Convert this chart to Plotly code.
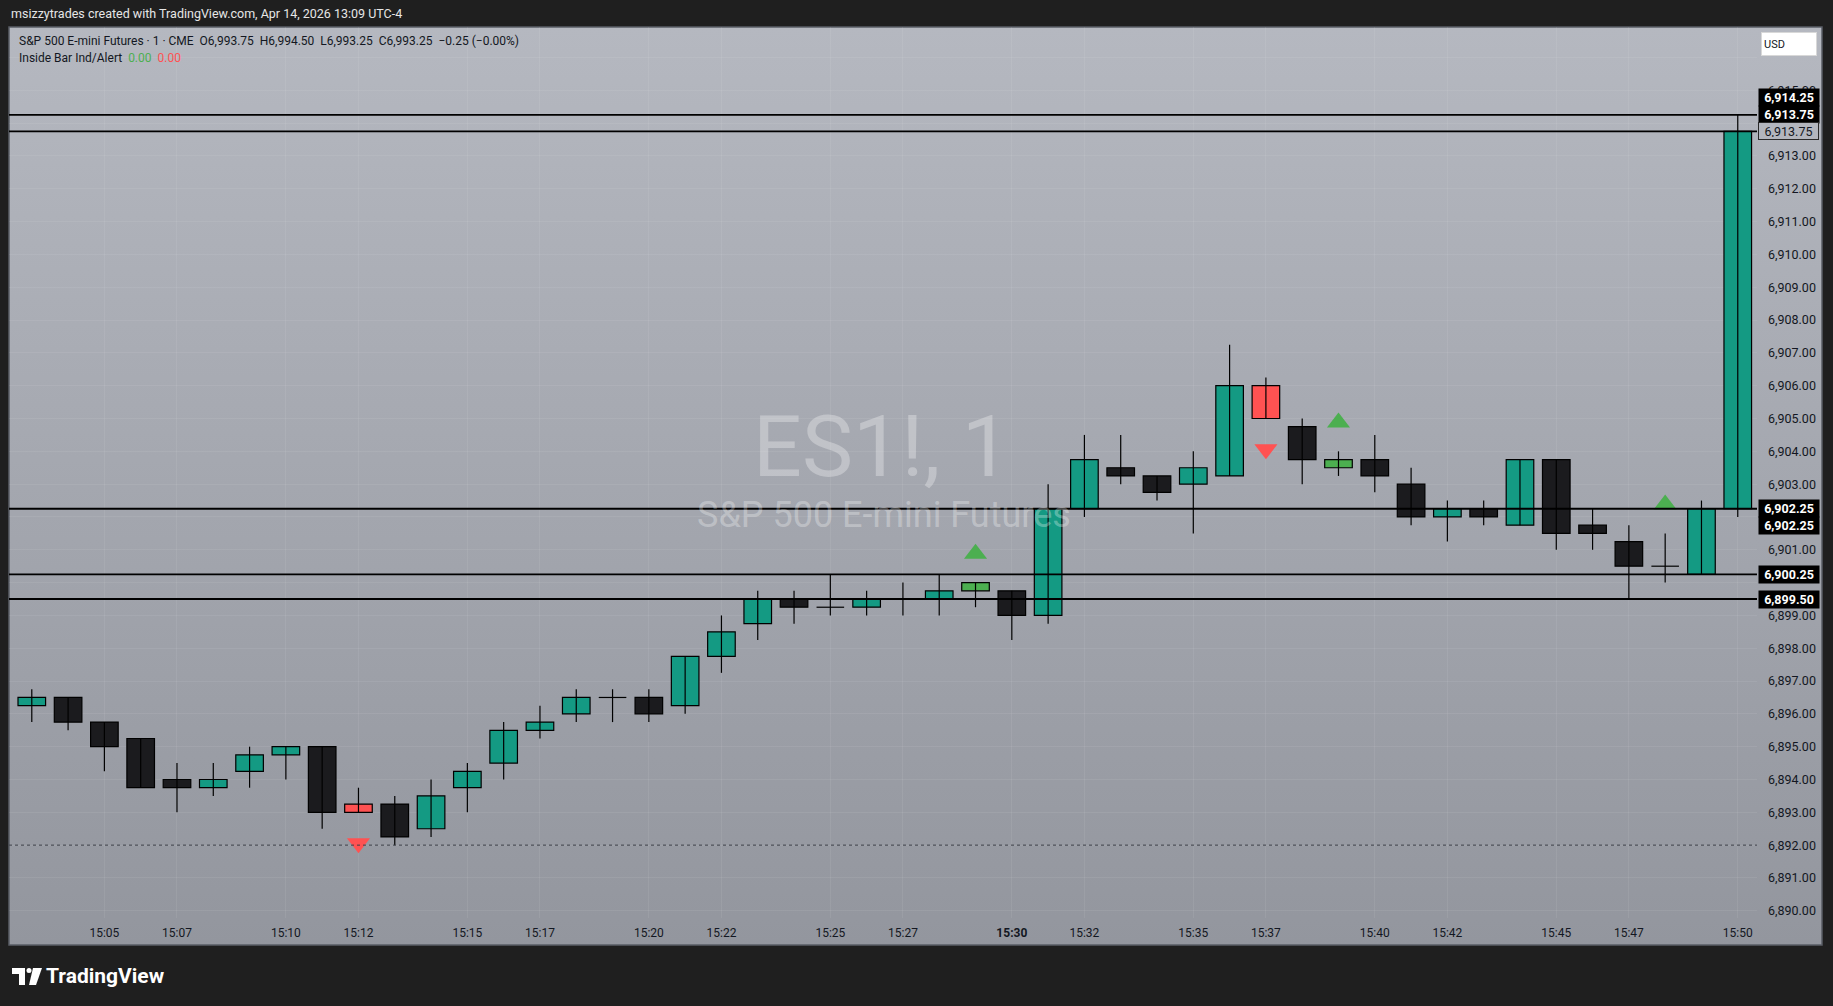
import base64
import plotly.graph_objects as go

# ---------------- data ----------------
times = ["15:03", "15:04", "15:05", "15:06", "15:07", "15:08", "15:09", "15:10", "15:11", "15:12",
         "15:13", "15:14", "15:15", "15:16", "15:17", "15:18", "15:19", "15:20", "15:21", "15:22",
         "15:23", "15:24", "15:25", "15:26", "15:27", "15:28", "15:29", "15:30", "15:31", "15:32",
         "15:33", "15:34", "15:35", "15:36", "15:37", "15:38", "15:39", "15:40", "15:41", "15:42",
         "15:43", "15:44", "15:45", "15:46", "15:47", "15:48", "15:49", "15:50"]
opens = [6896.25, 6896.50, 6895.75, 6895.25, 6894.00, 6893.75, 6894.25, 6894.75, 6895.00, 6893.25,
         6893.25, 6892.50, 6893.75, 6894.50, 6895.50, 6896.00, 6896.50, 6896.50, 6896.25, 6897.75,
         6898.75, 6899.50, 6899.25, 6899.25, 6899.50, 6899.50, 6899.75, 6899.75, 6899.00, 6902.25,
         6903.50, 6903.25, 6903.00, 6903.25, 6906.00, 6904.75, 6903.50, 6903.75, 6903.00, 6902.00,
         6902.25, 6901.75, 6903.75, 6901.75, 6901.25, 6900.50, 6900.25, 6902.25]
highs = [6896.75, 6896.50, 6895.75, 6895.25, 6894.50, 6894.50, 6895.00, 6895.00, 6895.00, 6893.75,
         6893.50, 6894.00, 6894.50, 6895.75, 6896.25, 6896.75, 6896.75, 6896.75, 6897.75, 6899.00,
         6899.75, 6899.75, 6900.25, 6899.75, 6900.00, 6900.25, 6900.00, 6899.75, 6903.00, 6904.50,
         6904.50, 6903.25, 6904.00, 6907.25, 6906.25, 6905.00, 6904.00, 6904.50, 6903.50, 6902.50,
         6902.50, 6903.75, 6903.75, 6902.25, 6901.75, 6901.50, 6902.50, 6914.25]
lows = [6895.75, 6895.50, 6894.25, 6893.75, 6893.00, 6893.50, 6893.75, 6894.00, 6892.50, 6893.00,
        6892.00, 6892.25, 6893.00, 6894.00, 6895.25, 6895.75, 6895.75, 6895.75, 6896.00, 6897.25,
        6898.25, 6898.75, 6899.00, 6899.00, 6899.00, 6899.00, 6899.25, 6898.25, 6898.75, 6902.00,
        6903.00, 6902.50, 6901.50, 6903.25, 6905.00, 6903.00, 6903.25, 6902.75, 6901.75, 6901.25,
        6901.75, 6901.75, 6901.00, 6901.00, 6899.50, 6900.00, 6900.25, 6902.00]
closes = [6896.50, 6895.75, 6895.00, 6893.75, 6893.75, 6894.00, 6894.75, 6895.00, 6893.00, 6893.00,
          6892.25, 6893.50, 6894.25, 6895.50, 6895.75, 6896.50, 6896.50, 6896.00, 6897.75, 6898.50,
          6899.50, 6899.25, 6899.25, 6899.50, 6899.50, 6899.75, 6900.00, 6899.00, 6902.25, 6903.75,
          6903.25, 6902.75, 6903.50, 6906.00, 6905.00, 6903.75, 6903.75, 6903.25, 6902.00, 6902.25,
          6902.00, 6903.75, 6901.50, 6901.50, 6900.50, 6900.50, 6902.25, 6913.75]
# Inside Bar Ind/Alert signals ("up" / "down" / None)
signals = [None] * 9 + ["down"] + [None] * 16 + ["up"] + [None] * 7 + ["down"] + [None] + ["up"] + \
          [None] * 8 + ["up"] + [None, None]
tick_times = ["15:05", "15:07", "15:10", "15:12", "15:15", "15:17", "15:20", "15:22", "15:25", "15:27",
              "15:30", "15:32", "15:35", "15:37", "15:40", "15:42", "15:45", "15:47", "15:50"]
bold_tick = "15:30"
line_levels = [6914.25, 6913.75, 6902.25, 6900.25, 6899.50]
dotted_level = 6892.00
label_levels = [6914.25, 6913.75, 6902.25, 6902.25, 6900.25, 6899.50]
price_ticks = [6890 + i for i in range(27)]
hidden_price_ticks = [6916, 6914, 6902, 6900]   # covered by the axis labels

header_text = "msizzytrades created with TradingView.com, Apr 14, 2026 13:09 UTC-4"
legend_line1 = "S&P 500 E-mini Futures · 1 · CME  O6,993.75  H6,994.50  L6,993.25  C6,993.25  −0.25 (−0.00%)"
indicator_name = "Inside Bar Ind/Alert"
indicator_vals = ["0.00", "0.00"]

# ---------------- style ----------------
W, H = 1833, 1006
PL, PR, PT, PB = 9, 1757, 27, 918          # plot area pixels
PANE_R, PANE_B = 1822, 945
UP = "#149a83"
DOWN = "#1b1b1e"
IB_RED = "#ff5252"
IB_GREEN = "#4caf50"
TXT = "#131722"
FONT = "Roboto"
BODY_W = 0.76


def px(X):
    return (X - PL) / (PR - PL)


def py(Y):
    return (PB - Y) / (PB - PT)


xs = list(range(len(times)))
fig = go.Figure()

# wicks
wx, wy = [], []
for i in xs:
    wx += [i, i, None]
    wy += [lows[i], highs[i], None]
fig.add_trace(go.Scatter(x=wx, y=wy, mode="lines", line=dict(color="#000000", width=1.2),
                         showlegend=False, hoverinfo="skip"))


def body_color(i):
    if signals[i] == "down":
        return IB_RED
    if signals[i] == "up":
        return IB_GREEN
    return UP if closes[i] > opens[i] else DOWN


body_idx = [i for i in xs if closes[i] != opens[i]]
fig.add_trace(go.Bar(
    x=body_idx, base=[min(opens[i], closes[i]) for i in body_idx],
    y=[abs(closes[i] - opens[i]) for i in body_idx], width=BODY_W,
    marker=dict(color=[body_color(i) for i in body_idx], line=dict(color="#000000", width=1.2)),
    showlegend=False, hoverinfo="skip"))

# doji bodies (open == close)
dx, dy = [], []
for i in xs:
    if closes[i] == opens[i]:
        dx += [i - BODY_W / 2, i + BODY_W / 2, None]
        dy += [opens[i], opens[i], None]
fig.add_trace(go.Scatter(x=dx, y=dy, mode="lines", line=dict(color="#000000", width=1.2),
                         showlegend=False, hoverinfo="skip"))

green_idx = [i for i in xs if signals[i] == "up"]
red_idx = [i for i in xs if signals[i] == "down"]
ARROW_GAP_UP = 0.88
ARROW_GAP_DN = 0.94
fig.add_trace(go.Scatter(
    x=green_idx, y=[highs[i] + ARROW_GAP_UP for i in green_idx],
    mode="markers", marker=dict(symbol="triangle-up", size=20, color=IB_GREEN, line=dict(width=0)),
    showlegend=False, hoverinfo="skip"))
fig.add_trace(go.Scatter(
    x=red_idx, y=[lows[i] - ARROW_GAP_DN for i in red_idx],
    mode="markers", marker=dict(symbol="triangle-down", size=20, color=IB_RED, line=dict(width=0)),
    showlegend=False, hoverinfo="skip"))

shapes = []
# pane border
shapes.append(dict(type="rect", xref="paper", yref="paper", x0=px(PL), x1=px(PANE_R),
                   y0=py(PANE_B), y1=py(PT), line=dict(color="#5a5d66", width=1.5), layer="below"))
for lv in line_levels:
    shapes.append(dict(type="line", xref="paper", yref="y", x0=0, x1=1, y0=lv, y1=lv,
                       line=dict(color="#000000", width=1.8)))
shapes.append(dict(type="line", xref="paper", yref="y", x0=0, x1=1, y0=dotted_level, y1=dotted_level,
                   line=dict(color="#3c3f47", width=1, dash="dot")))
# TradingView logo (decoration)
logo = "#ffffff"
shapes.append(dict(type="rect", xref="paper", yref="paper", x0=px(12), x1=px(25), y0=py(974), y1=py(968),
                   fillcolor=logo, line=dict(width=0)))
shapes.append(dict(type="rect", xref="paper", yref="paper", x0=px(19), x1=px(25), y0=py(985), y1=py(968),
                   fillcolor=logo, line=dict(width=0)))
shapes.append(dict(type="circle", xref="paper", yref="paper", x0=px(26.5), x1=px(31.5), y0=py(973),
                   y1=py(968), fillcolor=logo, line=dict(width=0)))
shapes.append(dict(type="path", xref="paper", yref="paper",
                   path="M {a},{b} L {c},{b} L {d},{e} L {f},{e} Z".format(
                       a=px(33), b=py(968), c=px(42), d=px(36), e=py(985), f=px(29)),
                   fillcolor=logo, line=dict(width=0)))

# gradient background for pane
svg = ('<svg xmlns="http://www.w3.org/2000/svg" width="100" height="100" viewBox="0 0 100 100" '
       'preserveAspectRatio="none"><defs><linearGradient id="g" x1="0" y1="0" x2="0" y2="1">'
       '<stop offset="0" stop-color="#b5b8c0"/><stop offset="1" stop-color="#93969e"/>'
       '</linearGradient></defs><rect width="100" height="100" fill="url(#g)"/></svg>')
src = "data:image/svg+xml;base64," + base64.b64encode(svg.encode()).decode()
images = [dict(source=src, xref="paper", yref="paper", x=px(PL), y=py(PT),
               sizex=px(PANE_R) - px(PL), sizey=py(PT) - py(PANE_B),
               sizing="stretch", xanchor="left", yanchor="top", layer="below")]

ann = []
ann.append(dict(text=header_text, xref="paper", yref="paper", x=px(9), y=py(14), xanchor="left",
                yanchor="middle", showarrow=False, font=dict(family=FONT, size=12.5, color="#e6e6e6")))
ann.append(dict(text=legend_line1.replace("  ", "&nbsp;&nbsp;"), xref="paper", yref="paper", x=px(17),
                y=py(41), xanchor="left", yanchor="middle", showarrow=False,
                font=dict(family=FONT, size=12, color=TXT)))
ann.append(dict(text=indicator_name + "&nbsp;&nbsp;<span style='color:%s'>%s</span>&nbsp;&nbsp;"
                "<span style='color:%s'>%s</span>" % (IB_GREEN, indicator_vals[0], IB_RED, indicator_vals[1]),
                xref="paper", yref="paper", x=px(17), y=py(58), xanchor="left", yanchor="middle",
                showarrow=False, font=dict(family=FONT, size=12, color=TXT)))
# watermark
ann.append(dict(text="ES1!, 1", xref="paper", yref="paper", x=px(881), y=py(447), xanchor="center",
                yanchor="middle", showarrow=False, font=dict(family=FONT, size=86, color="rgba(255,255,255,0.3)")))
ann.append(dict(text="S&P 500 E-mini Futures", xref="paper", yref="paper", x=px(884), y=py(515),
                xanchor="center", yanchor="middle", showarrow=False,
                font=dict(family=FONT, size=36, color="rgba(255,255,255,0.3)")))
# USD button
ann.append(dict(text="USD", xref="paper", yref="paper", x=px(1761), y=py(44), xanchor="left",
                yanchor="middle", showarrow=False, width=50, height=18, align="left", borderpad=2,
                bgcolor="#ffffff", bordercolor="#d8d8d8", borderwidth=1,
                font=dict(family=FONT, size=11, color=TXT)))
# price axis labels
label_shift = [17, 17, 0, -17, 0, 0]
for lv, sh in zip(label_levels, label_shift):
    ann.append(dict(text="<b>{:,.2f}</b>".format(lv), xref="paper", yref="y", x=px(1758), y=lv,
                    yshift=sh, xanchor="left", yanchor="middle", showarrow=False, width=56, height=13,
                    borderpad=2, bgcolor="#000000", font=dict(family=FONT, size=12.5, color="#ffffff")))
last_close = closes[-1]
ann.append(dict(text="{:,.2f}".format(last_close), xref="paper", yref="y", x=px(1758), y=last_close,
                xanchor="left", yanchor="middle", showarrow=False, width=55, height=12, borderpad=2,
                bgcolor="#b3b6be", bordercolor="#2a2a2a", borderwidth=1,
                font=dict(family=FONT, size=12.5, color=TXT)))
# footer wordmark
ann.append(dict(text="<b>TradingView</b>", xref="paper", yref="paper", x=px(44), y=py(976), xanchor="left",
                yanchor="middle", showarrow=False, font=dict(family=FONT, size=21, color="#ffffff")))

ticktext = ["<b>%s</b>" % t if t == bold_tick else t for t in tick_times]
price_text = ["" if v in hidden_price_ticks else "{:,.2f}".format(v) for v in price_ticks]

fig.update_layout(
    width=W, height=H,
    margin=dict(l=PL, r=W - PR, t=PT, b=H - PB, pad=0),
    paper_bgcolor="#1f1f1f", plot_bgcolor="rgba(0,0,0,0)",
    shapes=shapes, images=images, annotations=ann,
    font=dict(family=FONT, size=12, color=TXT),
    hovermode=False,
    xaxis=dict(range=[-0.628, len(times) - 1 + 0.53], tickmode="array",
               tickvals=[times.index(t) for t in tick_times],
               ticktext=ticktext, showgrid=True, gridcolor="rgba(255,255,255,0.07)", gridwidth=1,
               zeroline=False, showline=False, ticks="", ticklabelstandoff=6,
               tickfont=dict(family=FONT, size=12, color=TXT), fixedrange=True),
    yaxis=dict(side="right", range=[6889.78, 6916.93], tickmode="array", tickvals=price_ticks,
               ticktext=price_text, showgrid=True, gridcolor="rgba(255,255,255,0.07)", gridwidth=1,
               zeroline=False, showline=False, ticks="", ticklabelstandoff=10,
               tickfont=dict(family=FONT, size=12.5, color=TXT), fixedrange=True),
)

fig.write_html("out.html", config={"displayModeBar": False, "staticPlot": True},
               post_script="document.body.style.margin='0';document.body.style.background='#1f1f1f';"
                           "document.body.style.overflow='hidden';")
